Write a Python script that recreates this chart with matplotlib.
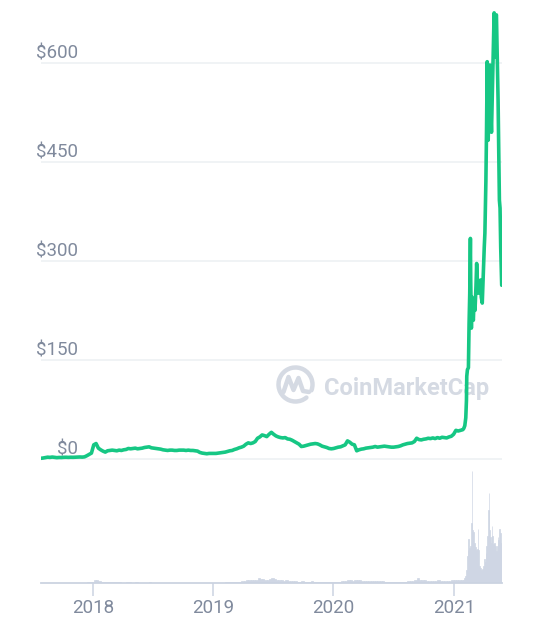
import numpy as np
import pandas as pd
import matplotlib
matplotlib.use('Agg')
import matplotlib.pyplot as plt
import matplotlib.dates as mdates
from matplotlib.patches import Arc

plt.rcParams['font.family'] = ['Roboto', 'DejaVu Sans']

# weekly closes (USD), Thursdays from 2017-07-27 to 2021-01-28
price_weekly = [
    # 2017
    0.6, 1.0, 1.7, 2.3, 2.0, 2.5, 2.1, 1.6, 1.9, 1.8, 2.1, 2.2, 2.0, 2.2, 2.1, 2.3, 2.5, 2.6, 2.4, 2.8, 4.5, 6.5, 8.5,
    # 2018
    21, 23, 16, 13.5, 11.5, 10, 12, 12.5, 13, 12.5, 12, 13, 12.5, 13.5, 14, 15.5, 15,
    15.5, 16, 15, 15.5, 16, 17, 17.5, 18, 16.5, 16, 15.5, 15, 14.5, 13.5, 13, 12.5, 13, 13,
    12.5, 12.5, 13, 13, 13, 12.5, 13, 12.5, 12.5, 12, 11.5, 9.5, 8.5, 8, 7.5, 8, 8,
    # 2019
    8, 8, 8.5, 9, 9.5, 10, 11, 12, 12.5, 14, 15, 16.5, 17.5, 19, 22, 24, 23,
    24, 26, 31, 33, 36, 35, 33.5, 37, 40, 37, 34.5, 33, 32, 31.5, 32, 30, 29.5, 28,
    26, 24, 22, 18.5, 19, 20, 21, 22, 22.5, 23, 22.5, 21, 19, 18, 17, 15.5, 15,
    # 2020
    15.5, 16.5, 17.5, 18, 19.5, 21, 27, 25, 22, 21, 12, 13.5, 14.5, 15, 16, 16.5, 17, 17.5,
    18.5, 17.5, 18, 18.5, 19, 18.5, 18, 17.5, 17.5, 18, 18.5, 19.5, 21, 22, 23, 23.5, 24,
    26, 31, 29, 28.5, 29.5, 30, 31, 30.5, 31.5, 30.5, 32, 31, 32.5, 32, 31.5, 33, 34, 37,
    # 2021 January
    43, 42, 43, 44,
]

price_2021_dates = [
    '2021-01-31', '2021-02-03', '2021-02-06', '2021-02-08', '2021-02-09', '2021-02-11',
    '2021-02-14', '2021-02-16', '2021-02-18', '2021-02-20', '2021-02-21', '2021-02-23',
    '2021-02-25', '2021-02-27', '2021-03-01', '2021-03-03', '2021-03-06', '2021-03-09',
    '2021-03-11', '2021-03-13', '2021-03-16', '2021-03-19', '2021-03-23', '2021-03-25',
    '2021-03-28', '2021-03-31', '2021-04-03', '2021-04-05', '2021-04-08', '2021-04-10',
    '2021-04-12', '2021-04-13', '2021-04-15', '2021-04-17', '2021-04-20', '2021-04-22',
    '2021-04-25', '2021-04-28', '2021-04-30', '2021-05-03', '2021-05-05', '2021-05-06',
    '2021-05-08', '2021-05-10', '2021-05-12', '2021-05-15', '2021-05-17', '2021-05-19',
    '2021-05-21', '2021-05-23', '2021-05-26',
]
price_2021 = [
    46, 50, 62, 88, 125, 135, 138, 205, 250, 334, 270, 198, 245, 215, 210, 240, 225,
    262, 296, 270, 251, 262, 271, 245, 236, 280, 320, 342, 420, 500, 602, 565, 483,
    540, 597, 540, 495, 560, 609, 676, 650, 609, 670, 673, 620, 544, 470, 392, 380,
    320, 263,
]

# volume (billion USD), same weekly dates
volume_weekly = [
    # 2017
    0.01, 0.02, 0.03, 0.03, 0.03, 0.03, 0.02, 0.02, 0.02, 0.02, 0.02, 0.02, 0.02, 0.02,
    0.02, 0.03, 0.03, 0.03, 0.03, 0.04, 0.08, 0.1, 0.15,
    # 2018
    0.45, 0.5, 0.3, 0.2, 0.15, 0.12, 0.1, 0.1, 0.1, 0.1, 0.08, 0.08, 0.07, 0.07, 0.08,
    0.08, 0.07, 0.07, 0.08, 0.07, 0.06, 0.06, 0.07, 0.07, 0.08, 0.06, 0.06, 0.06, 0.05,
    0.05, 0.05, 0.04, 0.04, 0.04, 0.04, 0.04, 0.04, 0.04, 0.04, 0.04, 0.04, 0.04, 0.04,
    0.04, 0.04, 0.05, 0.06, 0.05, 0.05, 0.04, 0.04, 0.05,
    # 2019
    0.06, 0.06, 0.07, 0.07, 0.07, 0.08, 0.1, 0.12, 0.12, 0.15, 0.2, 0.2, 0.25, 0.35,
    0.45, 0.5, 0.4, 0.45, 0.5, 0.7, 0.6, 0.55, 0.5, 0.45, 0.6, 0.7, 0.55, 0.5, 0.45,
    0.4, 0.35, 0.4, 0.3, 0.3, 0.25, 0.25, 0.2, 0.2, 0.3, 0.2, 0.2, 0.2, 0.25, 0.2, 0.2,
    0.2, 0.2, 0.18, 0.15, 0.15, 0.12, 0.12,
    # 2020
    0.15, 0.18, 0.2, 0.25, 0.3, 0.35, 0.45, 0.4, 0.35, 0.4, 0.5, 0.4, 0.35, 0.3, 0.3,
    0.3, 0.3, 0.3, 0.3, 0.3, 0.28, 0.25, 0.22, 0.2, 0.18, 0.15, 0.15, 0.15, 0.15, 0.18,
    0.2, 0.22, 0.25, 0.28, 0.3, 0.5, 0.8, 0.5, 0.45, 0.4, 0.35, 0.35, 0.3, 0.3, 0.35,
    0.4, 0.35, 0.35, 0.3, 0.3, 0.35, 0.4, 0.45,
    # 2021 January
    0.5, 0.45, 0.4, 0.5,
]

volume_2021_dates = [
    '2021-02-01', '2021-02-04', '2021-02-07', '2021-02-09', '2021-02-12', '2021-02-14',
    '2021-02-17', '2021-02-19', '2021-02-22', '2021-02-24', '2021-02-26', '2021-03-01',
    '2021-03-04', '2021-03-06', '2021-03-09', '2021-03-11', '2021-03-14', '2021-03-16',
    '2021-03-19', '2021-03-22', '2021-03-25', '2021-03-27', '2021-03-30', '2021-04-01',
    '2021-04-04', '2021-04-07', '2021-04-09', '2021-04-12', '2021-04-14', '2021-04-16',
    '2021-04-18', '2021-04-21', '2021-04-23', '2021-04-26', '2021-04-28', '2021-05-01',
    '2021-05-03', '2021-05-06', '2021-05-09', '2021-05-11', '2021-05-14', '2021-05-16',
    '2021-05-19', '2021-05-21', '2021-05-24', '2021-05-26',
]
volume_2021 = [
    0.7, 1.0, 2.0, 4.0, 5.0, 6.6, 5.2, 5.5, 9.0, 16.8, 8.0, 7.6, 6.0, 5.4, 5.0, 5.1,
    8.1, 5.0, 2.5, 2.2, 2.0, 2.1, 2.6, 3.6, 3.2, 4.5, 5.5, 7.0, 11.0, 13.5, 8.0, 6.9,
    6.0, 8.5, 7.0, 5.8, 6.0, 5.5, 4.8, 5.5, 6.9, 6.5, 8.1, 7.5, 6.0, 5.5,
]

y_ticks = [0, 150, 300, 450, 600]
y_labels = ['$0', '$150', '$300', '$450', '$600']
year_ticks = ['2018-01-01', '2019-01-01', '2020-01-01', '2021-01-01']
year_labels = ['2018', '2019', '2020', '2021']

weekly_dates = pd.date_range('2017-07-27', periods=len(price_weekly), freq='7D')
dates = weekly_dates.append(pd.to_datetime(price_2021_dates))
prices = np.array(price_weekly + price_2021, dtype=float)

vol_dates = pd.date_range('2017-07-27', periods=len(volume_weekly), freq='7D')
vol_dates = vol_dates.append(pd.to_datetime(volume_2021_dates))
volumes = np.array(volume_weekly + volume_2021, dtype=float)

GREEN = '#16c784'
GRID = '#eff2f5'
LABEL = '#808a9d'
AXIS = '#cbd3e1'
BAR = '#cfd6e4'

W, H = 538, 634
fig = plt.figure(figsize=(W / 100, H / 100), dpi=100)
fig.patch.set_facecolor('white')


def box(left, top, right, bottom):
    return [left / W, 1 - bottom / H, (right - left) / W, (bottom - top) / H]


# watermark layer (pixel coords)
bg = fig.add_axes([0, 0, 1, 1], zorder=0)
bg.set_xlim(0, W)
bg.set_ylim(H, 0)
bg.axis('off')
bg.add_patch(Arc((295.5, 384.5), 34, 34, theta1=50, theta2=380,
                 color='#d5dae3', lw=3.2, capstyle='round'))
bg.plot([283.5, 288.5, 293.5, 298.5, 303, 309], [392, 377, 390, 378, 391, 392],
        color='#d5dae3', lw=3.2, solid_joinstyle='round', solid_capstyle='round')
bg.text(324, 395.5, 'CoinMarketCap', fontsize=17, fontweight='bold',
        color='#d5dae3', ha='left', va='baseline')

# price panel
ax = fig.add_axes(box(40.7, 0, 501.7, 470), zorder=2)
ax.set_facecolor('none')
px_per_usd = (458.7 - 63) / 600
ax.set_ylim(-(470 - 458.7) / px_per_usd, 458.7 / px_per_usd)
ax.set_xlim(dates[0], dates[-1])
for v, lab in zip(y_ticks, y_labels):
    ax.axhline(v, color=GRID, lw=1.3, zorder=0)
    ax.annotate(lab, xy=(0.081, v), xycoords=('axes fraction', 'data'),
                xytext=(0, 4), textcoords='offset pixels', ha='right',
                va='baseline', fontsize=13.5, color=LABEL, zorder=1)
ax.plot(dates, prices, color=GREEN, lw=2.6, solid_joinstyle='round',
        solid_capstyle='round', zorder=3)
ax.axis('off')

# volume panel
axv = fig.add_axes(box(40.7, 465, 501.7, 583), zorder=1)
axv.set_facecolor('none')
x_num = mdates.date2num(vol_dates)
widths = np.append(np.diff(x_num), 3)
axv.bar(x_num, volumes, width=widths, align='edge', color=BAR,
        edgecolor=BAR, linewidth=0.5)
axv.set_xlim(mdates.date2num(dates[0]), mdates.date2num(dates[-1]))
axv.set_ylim(0, volumes.max() * 118 / 112)
for s in ['top', 'left', 'right']:
    axv.spines[s].set_visible(False)
axv.spines['bottom'].set_color(AXIS)
axv.spines['bottom'].set_linewidth(1.3)
axv.set_yticks([])
axv.set_xticks(mdates.date2num(pd.to_datetime(year_ticks)))
axv.set_xticklabels(year_labels)
axv.tick_params(axis='x', length=9.5, width=1.1, color=AXIS, labelcolor=LABEL,
                labelsize=13.5, pad=2)

fig.savefig('out.png', dpi=100, facecolor='white')
